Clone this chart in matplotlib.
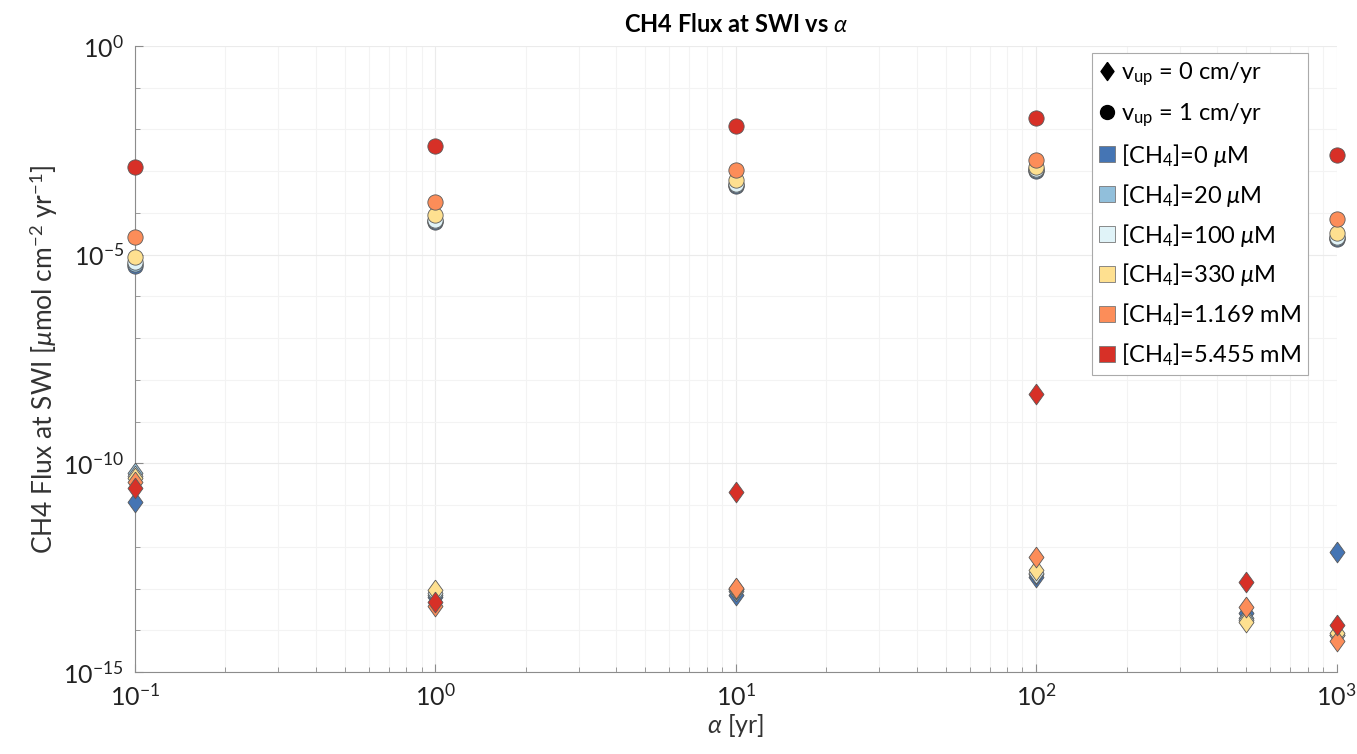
import matplotlib
matplotlib.use("Agg")
import matplotlib.pyplot as plt
from matplotlib.lines import Line2D
from matplotlib.ticker import FixedLocator, LogFormatterSciNotation, NullFormatter

plt.rcParams['font.family'] = ['Lato', 'DejaVu Sans']
plt.rcParams['mathtext.fontset'] = 'custom'
plt.rcParams['mathtext.rm'] = 'Lato'
plt.rcParams['mathtext.it'] = 'Lato:italic'
plt.rcParams['mathtext.bf'] = 'Lato:bold'

# ------------------------------------------------------
# Dados
# ------------------------------------------------------
concentracoes = ['0 $\\mu$M', '20 $\\mu$M', '100 $\\mu$M', '330 $\\mu$M', '1.169 mM', '5.455 mM']
cores = ['#4575b4', '#91bfdb', '#e0f3f8', '#fee090', '#fc8d59', '#d73027']

# v_up = 1 cm/yr (circulos)
alpha_v1 = [0.1, 1, 10, 100, 1000]
fluxo_v1 = [
    [5.4e-6, 6.0e-5, 4.5e-4, 1.02e-3, 2.4e-5],
    [6.0e-6, 6.5e-5, 4.7e-4, 1.07e-3, 2.5e-5],
    [6.6e-6, 6.8e-5, 4.9e-4, 1.12e-3, 2.6e-5],
    [8.9e-6, 8.9e-5, 6.2e-4, 1.26e-3, 3.3e-5],
    [2.6e-5, 1.8e-4, 1.07e-3, 1.86e-3, 7.1e-5],
    [1.26e-3, 4.0e-3, 1.23e-2, 1.9e-2, 2.45e-3],
]

# v_up = 0 cm/yr (losangos)
alpha_v0 = [0.1, 1, 10, 100, 500, 1000]
fluxo_v0 = [
    [1.17e-11, 6.3e-14, 6.9e-14, 1.9e-13, 2.6e-14, 7.6e-13],
    [5.75e-11, 7.1e-14, 8.9e-14, 2.2e-13, 2.0e-14, 7.9e-15],
    [5.0e-11, 7.9e-14, 9.5e-14, 2.4e-13, 1.8e-14, 7.6e-15],
    [4.5e-11, 9.1e-14, 1.0e-13, 2.75e-13, 1.6e-14, 8.5e-15],
    [3.5e-11, 3.8e-14, 1.02e-13, 5.75e-13, 3.6e-14, 5.4e-15],
    [2.6e-11, 4.8e-14, 2.0e-11, 4.6e-9, 1.45e-13, 1.35e-14],
]

# losango um pouco mais alto que largo (estilo MATLAB)
losango = [(0, 1), (0.72, 0), (0, -1), (-0.72, 0), (0, 1)]
borda = '#5a5a5a'

# ------------------------------------------------------
# Figura
# ------------------------------------------------------
fig = plt.figure(figsize=(13.57, 7.54), dpi=100)
ax = fig.add_axes([0.0995, 0.1088, 0.8855, 0.8302])

for i in range(len(cores)):
    ax.plot(alpha_v0, fluxo_v0[i], linestyle='none', marker=losango, markersize=15,
            markerfacecolor=cores[i], markeredgecolor=borda, markeredgewidth=0.6,
            clip_on=False, zorder=3)
for i in range(len(cores)):
    ax.plot(alpha_v1, fluxo_v1[i], linestyle='none', marker='o', markersize=11,
            markerfacecolor=cores[i], markeredgecolor=borda, markeredgewidth=0.6,
            clip_on=False, zorder=3)

ax.set_xscale('log')
ax.set_yscale('log')
ax.set_xlim(0.1, 1000)
ax.set_ylim(1e-15, 1)

ax.yaxis.set_major_locator(FixedLocator([1e-15, 1e-10, 1e-5, 1]))
ax.yaxis.set_minor_locator(FixedLocator([10.0 ** k for k in range(-15, 1)]))
ax.yaxis.set_major_formatter(LogFormatterSciNotation())
ax.yaxis.set_minor_formatter(NullFormatter())

ax.grid(True, which='major', color='#ebebeb', linewidth=0.8)
ax.grid(True, which='minor', color='#f3f3f3', linewidth=0.8)
ax.set_axisbelow(True)

for lado in ['top', 'right']:
    ax.spines[lado].set_visible(False)
for lado in ['left', 'bottom']:
    ax.spines[lado].set_color('#8c8c8c')

ax.tick_params(which='both', direction='in', colors='#8c8c8c', labelcolor='#222222')
ax.tick_params(which='major', length=6, labelsize=18, pad=8)
ax.tick_params(which='minor', length=3.5)

ax.set_xlabel('$\\it{\\alpha}$ [yr]', fontsize=18, color='#333333', labelpad=2)
ax.set_ylabel('CH4 Flux at SWI [$\\mu$mol cm$^{-2}$ yr$^{-1}$]', fontsize=19,
              color='#333333', labelpad=2)
ax.set_title('CH4 Flux at SWI vs $\\it{\\alpha}$', fontsize=17, fontweight='bold', pad=10)

# ------------------------------------------------------
# Legenda
# ------------------------------------------------------
itens = [
    Line2D([], [], linestyle='none', marker=losango, markersize=13, color='black'),
    Line2D([], [], linestyle='none', marker='o', markersize=10, color='black'),
]
rotulos = ['v$_{\\mathrm{up}}$ = 0 cm/yr', 'v$_{\\mathrm{up}}$ = 1 cm/yr']
for c, nome in zip(cores, concentracoes):
    itens.append(Line2D([], [], linestyle='none', marker='s', markersize=11,
                        markerfacecolor=c, markeredgecolor='#777777', markeredgewidth=0.6))
    rotulos.append('[CH$_4$]=' + nome)

leg = ax.legend(itens, rotulos, loc='upper right', bbox_to_anchor=(0.976, 0.989),
                fontsize=17, frameon=True, fancybox=False, framealpha=1,
                handlelength=0.6, handletextpad=0.3, borderpad=0.3, labelspacing=0.55,
                borderaxespad=0)
leg.get_frame().set_edgecolor('#aaaaaa')
leg.get_frame().set_linewidth(0.8)

fig.savefig('out.png', dpi=100)
